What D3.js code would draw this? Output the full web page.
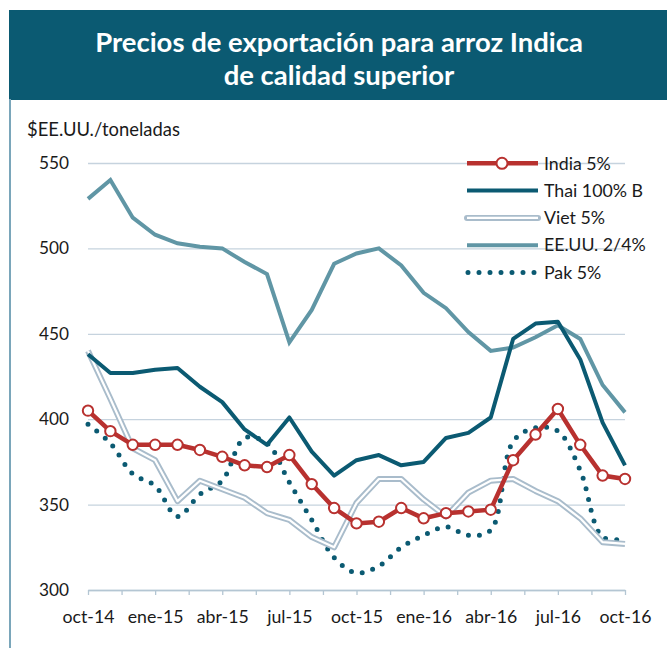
<!DOCTYPE html>
<html>
<head>
<meta charset="utf-8">
<script src="https://cdnjs.cloudflare.com/ajax/libs/d3/7.8.5/d3.min.js"></script>
<style>
body{margin:0;background:#fff;}
svg{display:block;}
</style>
</head>
<body>
<div id="chart"></div>
<script>
// precios mensuales, oct-14 .. oct-16
var months = ["oct-14","nov-14","dic-14","ene-15","feb-15","mar-15","abr-15","may-15","jun-15","jul-15","ago-15","sep-15",
	"oct-15","nov-15","dic-15","ene-16","feb-16","mar-16","abr-16","may-16","jun-16","jul-16","ago-16","sep-16","oct-16"];
var tickLabels = ["oct-14","ene-15","abr-15","jul-15","oct-15","ene-16","abr-16","jul-16","oct-16"];
var yTicks = [300,350,400,450,500,550];

var india = [405,393,385,385,385,382,378,373,372,379,362,348,339,340,348,342,345,346,347,376,391,406,385,367,365];
var thai  = [438,427,427,429,430,419,410,394,385,401,381,367,376,379,373,375,389,392,401,447,456,457,435,398,373];
var viet  = [440,412,383,376,352,364,359,354,345,341,331,325,351,365,365,353,343,357,364,365,358,352,342,328,327];
var eeuu  = [529,540,518,508,503,501,500,492,485,445,464,491,497,500,490,474,465,451,440,442,448,455,447,420,404];
var pak   = [397,386,368,361,343,356,364,389,386,363,341,319,310,314,325,332,337,332,335,387,395,393,370,331,330];

var names = ["India 5%","Thai 100% B","Viet 5%","EE.UU. 2/4%","Pak 5%"];

var W = 667, H = 648;
var FONT = "Lato, 'Open Sans', sans-serif";
var dark = "#0b5a72", red = "#b8312f", steel = "#6096a5", pale = "#a9bccb", grid = "#c6d3de";

var svg = d3.select("#chart").append("svg")
	.attr("width", W)
	.attr("height", H);

function fitFont(str, weight, target){
	var t = svg.append("text")
		.attr("font-family", FONT)
		.attr("font-weight", weight)
		.attr("font-size", 100)
		.text(str);
	var w = t.node().getComputedTextLength();
	t.remove();
	return 100*target/w;
}

// banner
svg.append("rect")
	.attr("x", 9).attr("y", 10)
	.attr("width", W-9).attr("height", 90)
	.attr("fill", dark);
svg.append("line")
	.attr("x1", 10).attr("x2", 10)
	.attr("y1", 99).attr("y2", H)
	.attr("stroke", "#7aa6ba")
	.attr("stroke-width", 2);

var titleSize = fitFont("Precios de exportación para arroz Indica", "bold", 488);
svg.append("text")
	.attr("x", 339).attr("y", 52)
	.attr("text-anchor", "middle")
	.attr("font-family", FONT).attr("font-weight", "bold")
	.attr("font-size", titleSize)
	.attr("fill", "#fff")
	.text("Precios de exportación para arroz Indica");
svg.append("text")
	.attr("x", 339).attr("y", 85)
	.attr("text-anchor", "middle")
	.attr("font-family", FONT).attr("font-weight", "bold")
	.attr("font-size", titleSize)
	.attr("fill", "#fff")
	.text("de calidad superior");

// scales
var x = d3.scaleLinear().domain([0, months.length-1]).range([88, 625]);
var y = d3.scaleLinear().domain([300, 550]).range([590, 163]);

var labelSize = fitFont("oct-16", "normal", 52);
var ySize = fitFont("550", "normal", 30);

svg.append("text")
	.attr("x", 27).attr("y", 136)
	.attr("font-family", FONT)
	.attr("font-size", fitFont("$EE.UU./toneladas", "normal", 153))
	.attr("fill", "#1a1a1a")
	.text("$EE.UU./toneladas");

// grid + y labels
var yAxis = d3.axisLeft(y)
	.tickValues(yTicks)
	.tickSize(-(x.range()[1]-x.range()[0]))
	.tickPadding(19);
var yG = svg.append("g")
	.attr("transform", "translate(" + x.range()[0] + ",0)")
	.call(yAxis);
yG.select(".domain").remove();
yG.selectAll("line").attr("stroke", grid).attr("stroke-width", 1.3);
yG.selectAll("text")
	.attr("font-family", FONT)
	.attr("font-size", ySize)
	.attr("fill", "#1a1a1a");

// x axis: marks every 1.5 months, labels every 3
var xAxis = d3.axisBottom(x)
	.tickValues(d3.range(0, months.length, 1.5))
	.tickSize(5)
	.tickSizeOuter(0)
	.tickFormat("");
var xG = svg.append("g")
	.attr("transform", "translate(0," + y(300) + ")")
	.call(xAxis);
xG.select(".domain").attr("stroke", "#b4c6d3").attr("stroke-width", 1.5);
xG.selectAll("line").attr("stroke", "#b4c6d3").attr("stroke-width", 1.3);

var xLab = d3.axisBottom(x)
	.tickValues(d3.range(0, months.length, 3))
	.tickSize(0)
	.tickPadding(20)
	.tickFormat(function(d){ return months[d]; });
var xL = svg.append("g")
	.attr("transform", "translate(0," + y(300) + ")")
	.call(xLab);
xL.select(".domain").remove();
xL.selectAll("text")
	.attr("font-family", FONT)
	.attr("font-size", labelSize)
	.attr("fill", "#1a1a1a");

// lines
var straight = d3.line()
	.x(function(d, i){ return x(i); })
	.y(function(d){ return y(d); });
var smooth = d3.line()
	.x(function(d, i){ return x(i); })
	.y(function(d){ return y(d); })
	.curve(d3.curveCatmullRom.alpha(0.5));

svg.append("path")
	.attr("d", smooth(pak))
	.attr("fill", "none")
	.attr("stroke", dark)
	.attr("stroke-width", 5)
	.attr("stroke-linecap", "round")
	.attr("stroke-dasharray", "0 11");

svg.append("path")
	.attr("d", straight(viet))
	.attr("fill", "none")
	.attr("stroke", pale)
	.attr("stroke-width", 6)
	.attr("stroke-linejoin", "round");
svg.append("path")
	.attr("d", straight(viet))
	.attr("fill", "none")
	.attr("stroke", "#fff")
	.attr("stroke-width", 2.2)
	.attr("stroke-linejoin", "round");

svg.append("path")
	.attr("d", straight(eeuu))
	.attr("fill", "none")
	.attr("stroke", steel)
	.attr("stroke-width", 4);

svg.append("path")
	.attr("d", straight(thai))
	.attr("fill", "none")
	.attr("stroke", dark)
	.attr("stroke-width", 4)
	.attr("stroke-linejoin", "round");

svg.append("path")
	.attr("d", straight(india))
	.attr("fill", "none")
	.attr("stroke", red)
	.attr("stroke-width", 4.5);
svg.selectAll(".indiaPt")
	.data(india)
	.enter()
	.append("circle")
	.attr("class", "indiaPt")
	.attr("cx", function(d, i){ return x(i); })
	.attr("cy", function(d){ return y(d); })
	.attr("r", 5.2)
	.attr("fill", "#fff")
	.attr("stroke", red)
	.attr("stroke-width", 2);

// legend
var legSize = fitFont("Thai 100% B", "normal", 99);
var leg = svg.selectAll(".leg")
	.data(names)
	.enter()
	.append("g")
	.attr("class", "leg")
	.attr("transform", function(d, i){ return "translate(467," + (163.3 + i*27.3) + ")"; });
leg.append("text")
	.attr("x", 77).attr("dy", "0.35em")
	.attr("font-family", FONT)
	.attr("font-size", legSize)
	.attr("fill", "#1a1a1a")
	.text(function(d){ return d; });

leg.filter(function(d, i){ return i == 0; })
	.call(function(g){
		g.append("line").attr("x1", 0).attr("x2", 71)
			.attr("stroke", red).attr("stroke-width", 4.5);
		g.append("circle").attr("cx", 35).attr("r", 5.5)
			.attr("fill", "#fff").attr("stroke", red).attr("stroke-width", 2);
	});
leg.filter(function(d, i){ return i == 1; })
	.append("line").attr("x1", 0).attr("x2", 71)
	.attr("stroke", dark).attr("stroke-width", 4);
leg.filter(function(d, i){ return i == 2; })
	.call(function(g){
		g.append("line").attr("x1", 0).attr("x2", 71)
			.attr("stroke", pale).attr("stroke-width", 6).attr("stroke-linecap", "round");
		g.append("line").attr("x1", 0).attr("x2", 71)
			.attr("stroke", "#fff").attr("stroke-width", 2.2);
	});
leg.filter(function(d, i){ return i == 3; })
	.append("line").attr("x1", 0).attr("x2", 71)
	.attr("stroke", steel).attr("stroke-width", 4);
leg.filter(function(d, i){ return i == 4; })
	.append("line").attr("x1", 1).attr("x2", 71)
	.attr("stroke", dark).attr("stroke-width", 5)
	.attr("stroke-linecap", "round")
	.attr("stroke-dasharray", "0 11");
</script>
</body>
</html>
